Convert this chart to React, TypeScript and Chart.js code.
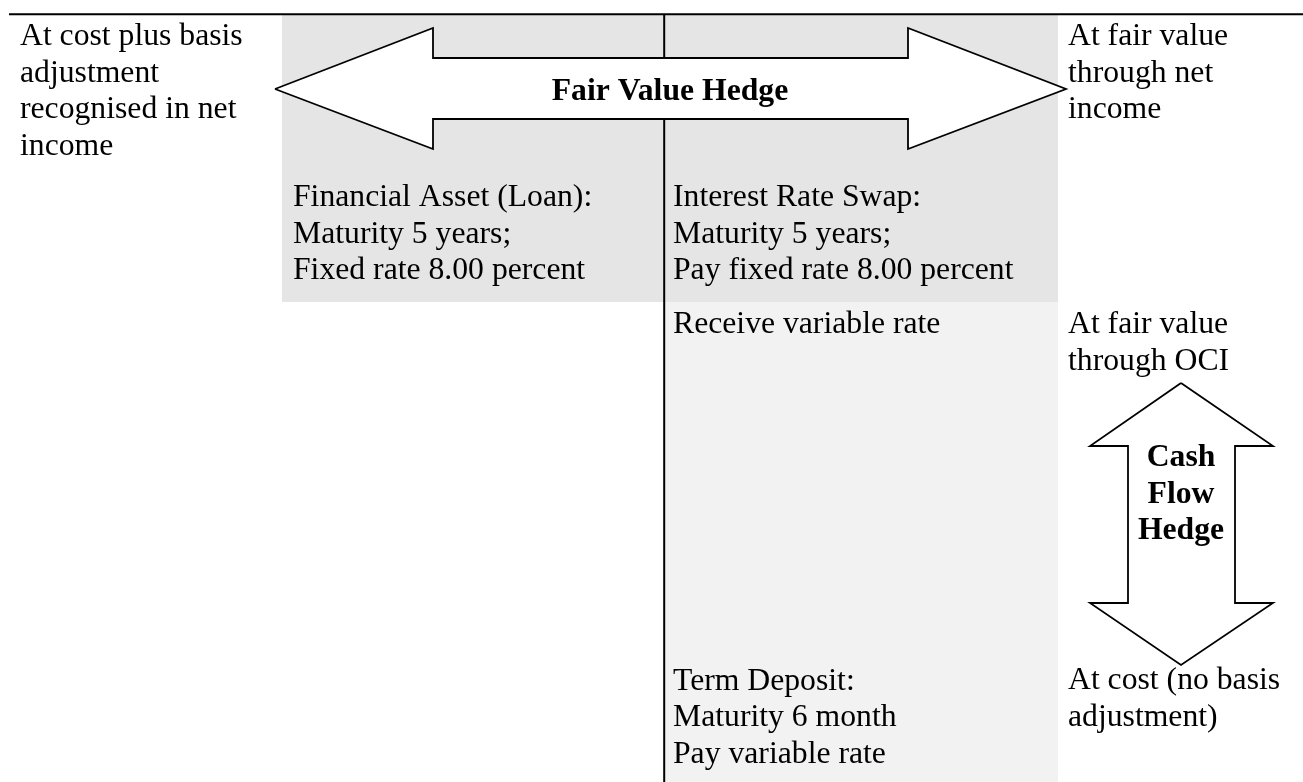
import React, { useEffect, useRef } from "react";
import { Chart, registerables } from "chart.js";

Chart.register(...registerables);

// ---- Diagram geometry (data units = page pixels) ----
const topRule = [{ x: 9, y: 14.2 }, { x: 1303, y: 14.2 }];
const divider = [{ x: 664.2, y: 14 }, { x: 664.2, y: 782 }];

const panelLoan = [
  { x: 282, y: 15 }, { x: 664, y: 15 }, { x: 664, y: 302 }, { x: 282, y: 302 }, { x: 282, y: 15 },
];
const panelSwap = [
  { x: 664, y: 15 }, { x: 1058, y: 15 }, { x: 1058, y: 302 }, { x: 664, y: 302 }, { x: 664, y: 15 },
];
const panelDeposit = [
  { x: 664, y: 302 }, { x: 1058, y: 302 }, { x: 1058, y: 782 }, { x: 664, y: 782 }, { x: 664, y: 302 },
];

const fairValueArrow = [
  { x: 275, y: 89 }, { x: 433, y: 28 }, { x: 433, y: 58 }, { x: 908, y: 58 }, { x: 908, y: 28 },
  { x: 1066, y: 89 }, { x: 908, y: 149 }, { x: 908, y: 119 }, { x: 433, y: 119 }, { x: 433, y: 149 },
  { x: 275, y: 89 },
];
const cashFlowArrow = [
  { x: 1181, y: 383 }, { x: 1273, y: 446 }, { x: 1235, y: 446 }, { x: 1235, y: 603 }, { x: 1273, y: 603 },
  { x: 1181, y: 665 }, { x: 1090, y: 603 }, { x: 1128, y: 603 }, { x: 1128, y: 446 }, { x: 1090, y: 446 },
  { x: 1181, y: 383 },
];

// ---- Texts ----
const leftText = ["At cost plus basis", "adjustment", "recognised in net", "income"];
const rightTopText = ["At fair value", "through net", "income"];
const loanText = ["Financial Asset (Loan):", "Maturity 5 years;", "Fixed rate 8.00 percent"];
const swapText = ["Interest Rate Swap:", "Maturity 5 years;", "Pay fixed rate 8.00 percent"];
const receiveText = ["Receive variable rate"];
const ociText = ["At fair value", "through OCI"];
const costText = ["At cost (no basis", "adjustment)"];
const depositText = ["Term Deposit:", "Maturity 6 month", "Pay variable rate"];
const fairValueLabel = ["Fair Value Hedge"];
const cashFlowLabel = ["Cash", "Flow", "Hedge"];

// text blocks: [lines, x anchor, first baseline, align, bold]
const textBlocks: [string[], number, number, CanvasTextAlign, boolean][] = [
  [leftText, 20, 45, "left", false],
  [rightTopText, 1068, 45, "left", false],
  [loanText, 293, 206, "left", false],
  [swapText, 673, 206, "left", false],
  [receiveText, 673, 332.5, "left", false],
  [ociText, 1068, 333, "left", false],
  [costText, 1068, 689, "left", false],
  [depositText, 673, 689.5, "left", false],
  [fairValueLabel, 670, 100, "center", true],
  [cashFlowLabel, 1181, 466, "center", true],
];

const LINE_STEP = 36.7;
const FONT_SIZE = 31.7;

const textPlugin = {
  id: "diagramText",
  afterDatasetsDraw(chart: any) {
    const { ctx, scales } = chart;
    const xs = scales.x;
    const ys = scales.y;
    ctx.save();
    ctx.fillStyle = "#000";
    ctx.textBaseline = "alphabetic";
    for (const [lines, x, y0, align, bold] of textBlocks) {
      ctx.font = `${bold ? "bold " : ""}${FONT_SIZE}px "Liberation Serif", "Times New Roman", serif`;
      ctx.textAlign = align;
      lines.forEach((t, i) => {
        ctx.fillText(t, xs.getPixelForValue(x), ys.getPixelForValue(y0 + i * LINE_STEP));
      });
    }
    ctx.restore();
  },
};

function shape(data: any[], bg: string, border: string, bw: number, order: number) {
  return {
    data,
    showLine: true,
    fill: bg !== "transparent" ? "shape" : false,
    backgroundColor: bg,
    borderColor: border,
    borderWidth: bw,
    pointRadius: 0,
    pointHoverRadius: 0,
    tension: 0,
    order,
    clip: false,
    borderJoinStyle: "miter",
  };
}

export default function App() {
  const ref = useRef<HTMLCanvasElement>(null);
  useEffect(() => {
    document.body.style.margin = "0";
    const chart = new Chart(ref.current!, {
      type: "scatter",
      data: {
        datasets: [
          shape(fairValueArrow, "#ffffff", "#000000", 1.8, 0),
          shape(cashFlowArrow, "#ffffff", "#000000", 1.8, 0),
          shape(topRule, "transparent", "#000000", 2, 1),
          shape(divider, "transparent", "#000000", 2, 1),
          shape(panelLoan, "#e5e5e5", "rgba(0,0,0,0)", 0, 2),
          shape(panelSwap, "#e5e5e5", "rgba(0,0,0,0)", 0, 2),
          shape(panelDeposit, "#f2f2f2", "rgba(0,0,0,0)", 0, 2),
        ] as any,
      },
      options: {
        animation: false,
        responsive: false,
        devicePixelRatio: 1,
        maintainAspectRatio: false,
        layout: { padding: 0 },
        events: [],
        plugins: { legend: { display: false }, tooltip: { enabled: false } },
        scales: {
          x: { type: "linear", min: 0, max: 1303, display: false },
          y: { type: "linear", min: 0, max: 782, reverse: true, display: false },
        },
      },
      plugins: [textPlugin],
    });
    return () => chart.destroy();
  }, []);
  return (
    <canvas ref={ref} width={1303} height={782} style={{ display: "block" }} />
  );
}
